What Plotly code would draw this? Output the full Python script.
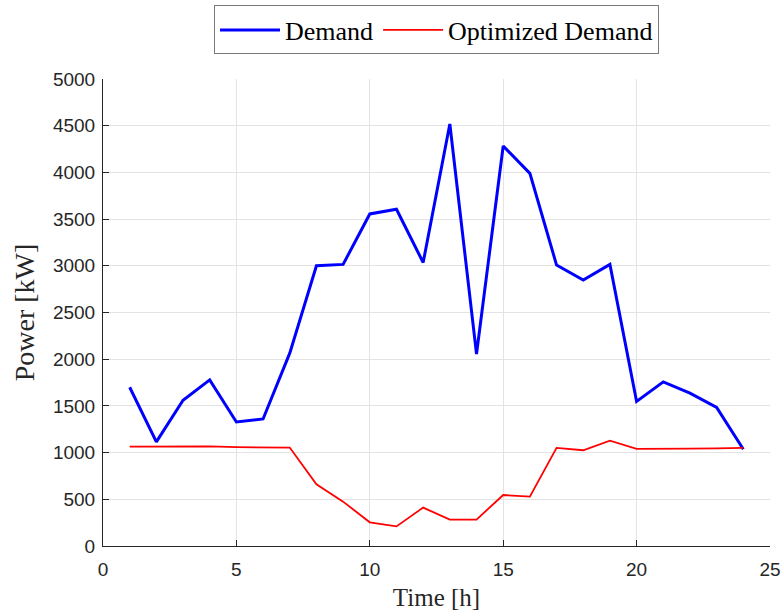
import plotly.graph_objects as go

# Hourly load profile, original vs optimized
hours = list(range(1, 25))
demand = [1700, 1115, 1560, 1778, 1328, 1360, 2065, 3000, 3015, 3555, 3605, 3035,
          4518, 2055, 4282, 3990, 3008, 2848, 3015, 1548, 1757, 1637, 1484, 1036]
optimized_demand = [1064, 1065, 1066, 1066, 1058, 1054, 1054, 661, 475, 254, 210, 411,
                    283, 283, 546, 529, 1050, 1025, 1127, 1040, 1039, 1043, 1046, 1050]

x_ticks = [0, 5, 10, 15, 20, 25]
y_ticks = list(range(0, 5001, 500))

axis_color = "#262626"
grid_color = "#e3e3e3"
serif = "Liberation Serif, Times New Roman, serif"
tick_font = dict(family="Liberation Sans, Arial, sans-serif", size=19, color=axis_color)

fig = go.Figure()
fig.add_trace(go.Scatter(x=hours, y=demand, mode="lines", name="Demand",
                         line=dict(color="#0000ff", width=3)))
fig.add_trace(go.Scatter(x=hours, y=optimized_demand, mode="lines", name="Optimized Demand",
                         line=dict(color="#ff0000", width=1.8)))

fig.update_xaxes(range=[0, 25], tickvals=x_ticks, ticks="inside", ticklen=6,
                 tickcolor=axis_color, showline=True, linecolor=axis_color, linewidth=1,
                 showgrid=True, gridcolor=grid_color, gridwidth=1, zeroline=False,
                 tickfont=tick_font, ticklabelstandoff=6, automargin=False,
                 title=dict(text="Time [h]", font=dict(family=serif, size=25, color=axis_color),
                            standoff=12))
fig.update_yaxes(range=[0, 5000], tickvals=y_ticks, ticks="inside", ticklen=6,
                 tickcolor=axis_color, showline=True, linecolor=axis_color, linewidth=1,
                 showgrid=True, gridcolor=grid_color, gridwidth=1, zeroline=False,
                 tickfont=tick_font, ticklabelstandoff=3, automargin=False,
                 title=dict(text="Power [kW]", font=dict(family=serif, size=28, color=axis_color),
                            standoff=10))

fig.update_layout(
    width=782, height=611,
    margin=dict(l=103, r=12, t=79, b=65, autoexpand=False),
    plot_bgcolor="white", paper_bgcolor="white",
    legend=dict(orientation="h", x=0.5, xanchor="center",
                yref="container", y=0.991, yanchor="top",
                bordercolor="#7a7a7a", borderwidth=1, bgcolor="white",
                font=dict(family=serif, size=26, color="#000000"),
                itemwidth=60, tracegroupgap=0),
)

fig.write_html("out.html")
